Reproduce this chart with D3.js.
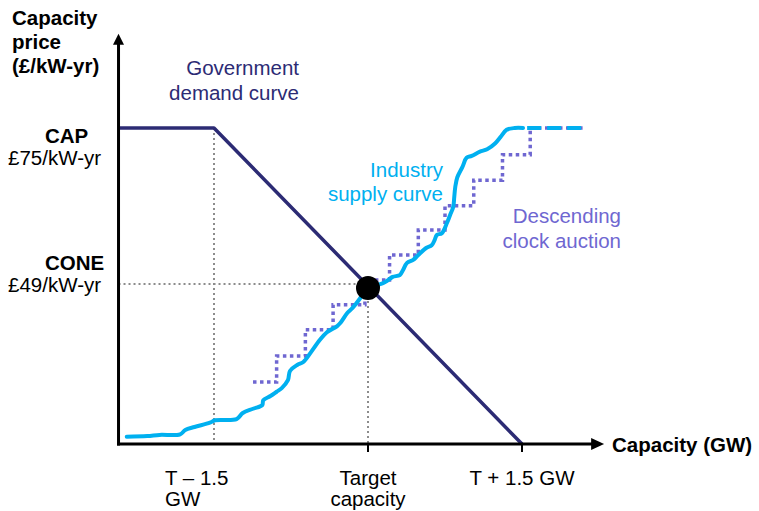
<!DOCTYPE html>
<html>
<head>
<meta charset="utf-8">
<script src="https://cdn.jsdelivr.net/npm/d3@7"></script>
<style>
  html, body { margin: 0; padding: 0; background: #fff; }
  svg { display: block; font-family: Arial, "Liberation Sans", sans-serif; }
</style>
</head>
<body>
<svg id="chart" width="759" height="511"></svg>
<script>
// ---- data (x: GW relative to target capacity T, y: capacity price £/kW-yr) ----
const xTickValues = [-1.5, 0, 1.5];
const xTickLabels = [["T \u2013 1.5", "GW"], ["Target", "capacity"], ["T + 1.5 GW"]];
const capPrice = 75;
const conePrice = 49;
const axisMinX = -2.43;
const axisMaxX = 2.3;
const axisMinY = 23;
const axisMaxY = 90.5;

const demandX = [-2.43, -1.5, 1.5];
const demandY = [75, 75, 23];

const supplyX = [-2.35,-2.15,-2.03,-1.83,-1.78,-1.69,-1.54,-1.49,-1.28,-1.22,-1.12,-1.03,-1.02,-0.95,-0.89,-0.84,-0.78,-0.76,-0.69,-0.63,-0.56,-0.47,-0.40,-0.30,-0.27,-0.20,-0.15,-0.08,0,0.12,0.19,0.24,0.31,0.34,0.38,0.44,0.49,0.57,0.62,0.65,0.67,0.72,0.77,0.80,0.83,0.84,0.85,0.87,0.92,0.96,1.01,1.09,1.16,1.24,1.29,1.35,1.43,1.51];
const supplyY = [24.2,24.3,24.5,24.6,25.3,25.8,26.5,26.9,27.1,28.1,28.8,29.4,30.2,30.9,31.6,32.2,33.5,35.0,36.0,36.5,38.0,40.1,41.4,42.4,42.9,44.6,45.4,46.9,49,49.3,49.9,50.5,50.8,51.6,52.8,53.3,54.1,55.3,55.7,56.6,57.4,57.7,59.4,60.7,62.0,63.6,65.3,66.9,68.6,70.1,70.4,71.1,71.5,72.5,73.5,74.7,75,75];
const supplyTailX = [1.55, 2.09];
const supplyTailY = [75, 75];

const auctionX = [-1.12, -0.89, -0.61, -0.34, -0.03, 0.21, 0.49, 0.75, 1.03, 1.31, 1.58, 2.09];
const auctionY = [33.2, 37.5, 41.8, 45.9, 50.0, 54.1, 58.2, 62.2, 66.4, 70.6, 75, 75];

// ---- colours ----
const navy = "#2c2b74";
const cyan = "#00b0f0";
const purple = "#6f67d1";
const grey = "#8c8c8c";

const svg = d3.select("#chart");
const x = d3.scaleLinear().domain([-1.5, 1.5]).range([214, 522]);
const y = d3.scaleLinear().domain([23, 75]).range([444, 128]);

const line = d3.line().x(d => x(d[0])).y(d => y(d[1]));

// guide lines
const gGuide = svg.append("g").attr("stroke", grey).attr("stroke-width", 2)
  .attr("stroke-dasharray", "2,3").attr("fill", "none");
gGuide.append("line").attr("x1", x(-1.5)).attr("x2", x(-1.5)).attr("y1", y(capPrice)).attr("y2", y(axisMinY));
gGuide.append("line").attr("x1", x(0)).attr("x2", x(0)).attr("y1", y(conePrice)).attr("y2", y(axisMinY));
gGuide.append("line").attr("x1", x(axisMinX)).attr("x2", x(0)).attr("y1", y(conePrice) - 2).attr("y2", y(conePrice) - 2);

// ticks
svg.append("g").selectAll("line").data(xTickValues.slice(1)).join("line")
  .attr("x1", d => x(d)).attr("x2", d => x(d)).attr("y1", y(axisMinY)).attr("y2", y(axisMinY) + 8)
  .attr("stroke", "#000").attr("stroke-width", 2);

// clock auction (dotted steps)
svg.append("path")
  .attr("d", line.curve(d3.curveStepAfter)(auctionX.map((v, i) => [v, auctionY[i]])))
  .attr("fill", "none").attr("stroke", purple).attr("stroke-width", 3.5)
  .attr("stroke-dasharray", "3.5,3.5");

// demand curve
svg.append("path")
  .attr("d", d3.line().x(d => x(d[0])).y(d => y(d[1]))(demandX.map((v, i) => [v, demandY[i]])))
  .attr("fill", "none").attr("stroke", navy).attr("stroke-width", 3.5).attr("stroke-linejoin", "round");

// supply curve
svg.append("path")
  .attr("d", d3.line().curve(d3.curveCatmullRom.alpha(0.5)).x(d => x(d[0])).y(d => y(d[1]))(supplyX.map((v, i) => [v, supplyY[i]])))
  .attr("fill", "none").attr("stroke", cyan).attr("stroke-width", 4).attr("stroke-linejoin", "round").attr("stroke-linecap", "round");
svg.append("path")
  .attr("d", d3.line().x(d => x(d[0])).y(d => y(d[1]))(supplyTailX.map((v, i) => [v, supplyTailY[i]])))
  .attr("fill", "none").attr("stroke", cyan).attr("stroke-width", 4).attr("stroke-dasharray", "14,6");

// axes
const x0 = x(axisMinX), y0 = y(axisMinY);
svg.append("line").attr("x1", x0).attr("x2", x0).attr("y1", y0 + 1.5).attr("y2", y(axisMaxY) + 10)
  .attr("stroke", "#000").attr("stroke-width", 3);
svg.append("path").attr("d", `M${x0 - 5.5},${y(axisMaxY) + 11} L${x0},${y(axisMaxY)} L${x0 + 5.5},${y(axisMaxY) + 11} Z`).attr("fill", "#000");
svg.append("line").attr("x1", x0 - 1.5).attr("x2", x(axisMaxX) - 12).attr("y1", y0).attr("y2", y0)
  .attr("stroke", "#000").attr("stroke-width", 3);
svg.append("path").attr("d", `M${x(axisMaxX) - 13},${y0 - 6} L${x(axisMaxX)},${y0} L${x(axisMaxX) - 13},${y0 + 6} Z`).attr("fill", "#000");

// equilibrium
svg.append("circle").attr("cx", x(0)).attr("cy", y(conePrice) + 2).attr("r", 12).attr("fill", "#000");

// ---- text ----
const fs = "20.5px";
function txt(str, px, py, opts = {}) {
  return svg.append("text").attr("x", px).attr("y", py).text(str)
    .attr("font-size", opts.size || fs)
    .attr("font-weight", opts.bold ? "bold" : "normal")
    .attr("fill", opts.color || "#000")
    .attr("text-anchor", opts.anchor || "start");
}
txt("Capacity", 12, 25, { bold: true });
txt("price", 12, 49, { bold: true });
txt("(£/kW-yr)", 12, 73, { bold: true });

txt("CAP", 45, 143, { bold: true });
txt("£75/kW-yr", 8, 165);
txt("CONE", 45, 270, { bold: true });
txt("£49/kW-yr", 8, 292);

txt("Government", 299, 75, { color: navy, anchor: "end" });
txt("demand curve", 299, 100, { color: navy, anchor: "end" });
txt("Industry", 443, 177, { color: cyan, anchor: "end" });
txt("supply curve", 443, 201, { color: cyan, anchor: "end" });
txt("Descending", 621, 223, { color: purple, anchor: "end" });
txt("clock auction", 621, 248, { color: purple, anchor: "end" });

txt(xTickLabels[0][0], 165, 485);
txt(xTickLabels[0][1], 165, 506);
txt(xTickLabels[1][0], x(xTickValues[1]), 485, { anchor: "middle" });
txt(xTickLabels[1][1], x(xTickValues[1]), 506, { anchor: "middle" });
txt(xTickLabels[2][0], x(xTickValues[2]), 485, { anchor: "middle" });

txt("Capacity (GW)", 612, 452, { bold: true });
</script>
</body>
</html>
